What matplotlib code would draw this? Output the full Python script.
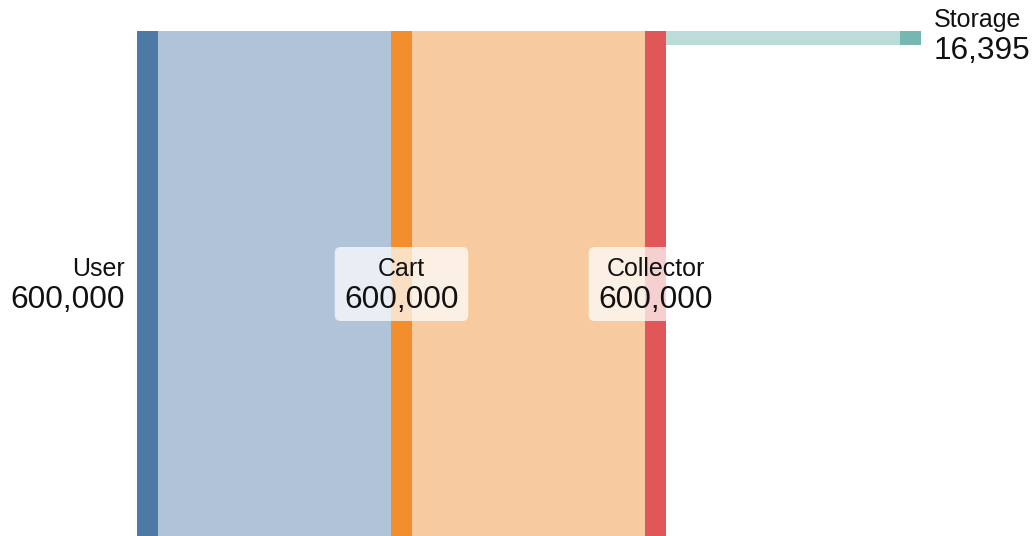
import matplotlib
matplotlib.use("Agg")
import matplotlib.pyplot as plt
from matplotlib.patches import Rectangle, FancyBboxPatch

plt.rcParams['font.family'] = ['Liberation Sans', 'DejaVu Sans']

# Nodes and flows of the sankey
nodes = ["User", "Cart", "Collector", "Storage"]
node_values = [600000, 600000, 600000, 16395]
node_colors = ["#4e79a7", "#f28e2b", "#e15759", "#76b7b2"]
link_sources = ["User", "Cart", "Collector"]
link_targets = ["Cart", "Collector", "Storage"]
link_values = [600000, 600000, 16395]
link_colors = ["#b0c3d9", "#f7cb9f", "#bcdcd9"]

W, H = 1035, 536
fig = plt.figure(figsize=(W / 100, H / 100), dpi=100)
ax = fig.add_axes([0, 0, 1, 1])
ax.set_xlim(0, W)
ax.set_ylim(H, 0)
ax.axis("off")

# layout
top = 31
px_per_unit = 512 / 600000
node_w = 21
col_x = {"User": 137, "Cart": 391, "Collector": 645, "Storage": 900}

node_h = {n: v * px_per_unit for n, v in zip(nodes, node_values)}
out_off = {n: 0.0 for n in nodes}
in_off = {n: 0.0 for n in nodes}

# links
for s, t, v, c in zip(link_sources, link_targets, link_values, link_colors):
    h = v * px_per_unit
    x0 = col_x[s] + node_w
    x1 = col_x[t]
    y0 = top + out_off[s]
    ax.add_patch(Rectangle((x0, y0), x1 - x0, h, facecolor=c, edgecolor="none", zorder=1))
    out_off[s] += h
    in_off[t] += h

# nodes
for n, c in zip(nodes, node_colors):
    ax.add_patch(Rectangle((col_x[n], top), node_w, node_h[n], facecolor=c,
                           edgecolor="none", zorder=2))

fig.canvas.draw()
renderer = fig.canvas.get_renderer()

name_size = 18
value_size = 22.8
for n, v in zip(nodes, node_values):
    cy = top + node_h[n] / 2
    if n == "User":
        x, ha = col_x[n] - 12, "right"
    elif n == "Storage":
        x, ha = col_x[n] + node_w + 13, "left"
    else:
        x, ha = col_x[n] + node_w / 2, "center"
    t1 = ax.text(x, cy - 18, n, ha=ha, va="center", fontsize=name_size, color="#111111", zorder=4)
    t2 = ax.text(x, cy + 13.5, f"{v:,}", ha=ha, va="center", fontsize=value_size, color="#111111", zorder=4)
    if ha == "center":
        b1 = t1.get_window_extent(renderer)
        b2 = t2.get_window_extent(renderer)
        wpx = max(b1.width, b2.width) + 19
        xl = x - wpx / 2
        ax.add_patch(FancyBboxPatch((xl, cy - 40), wpx, 74,
                                    boxstyle="round,pad=0,rounding_size=6",
                                    facecolor="white", alpha=0.72, edgecolor="none", zorder=3))

fig.savefig("out.png", dpi=100)
